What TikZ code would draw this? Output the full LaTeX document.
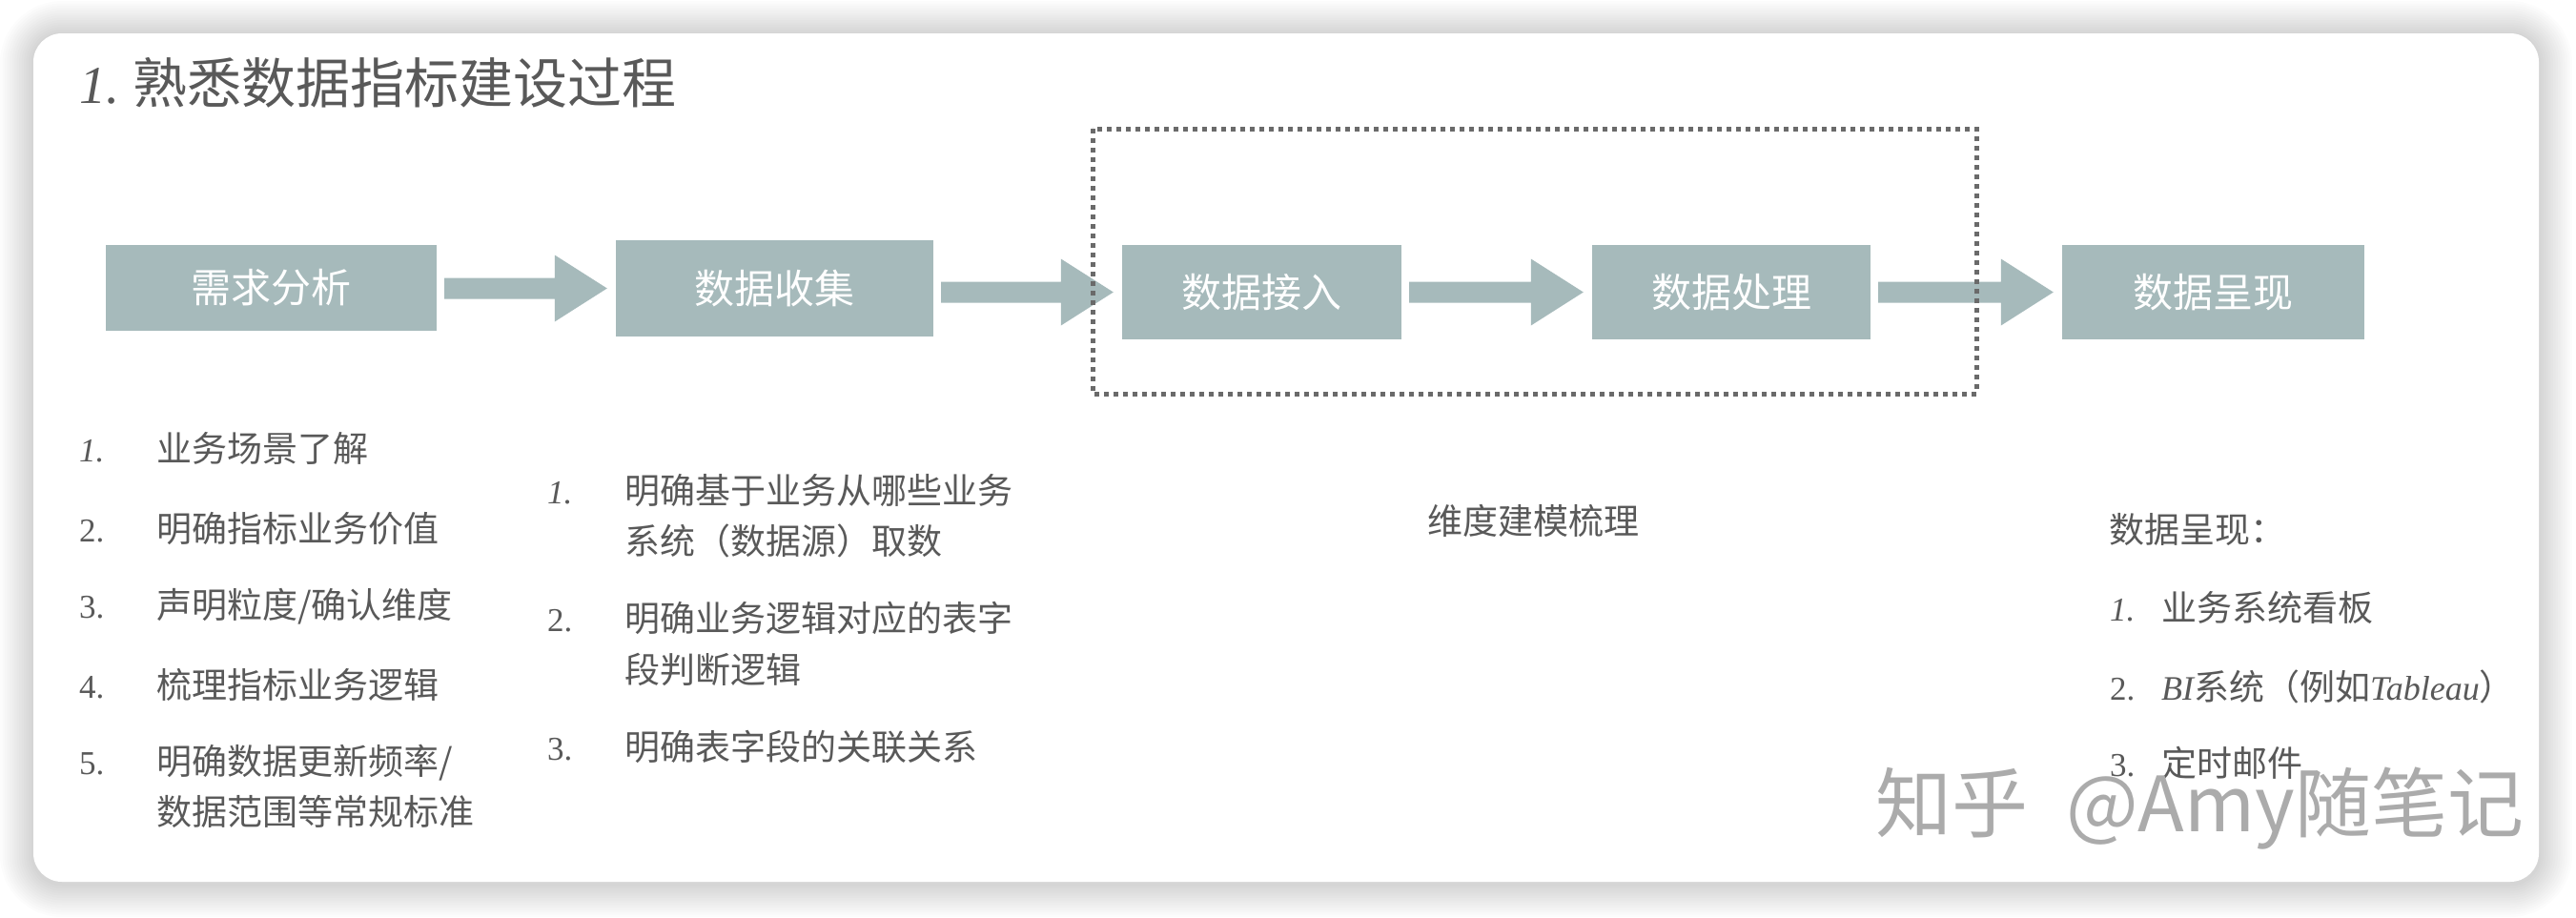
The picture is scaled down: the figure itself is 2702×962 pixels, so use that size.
\documentclass[tikz,border=0pt]{standalone}
\usepackage{fontspec}
\newfontfamily\cjk{Noto Sans CJK SC}
\newfontfamily\latf{Liberation Serif}
\usetikzlibrary{calc}
\definecolor{boxfill}{HTML}{A6BABB}
\definecolor{txt}{HTML}{595959}
\definecolor{dotc}{HTML}{6A6A6A}
\definecolor{wm}{HTML}{ABABAB}
\newcommand\nI[1]{{\latf\fontsize{35}{35}\selectfont\itshape #1}}
\newcommand\nU[1]{{\latf\fontsize{35}{35}\selectfont #1}}
\newcommand\latI[1]{{\latf\fontsize{36}{36}\selectfont\itshape #1}}
\newcommand\blockarrow[2]{%
  \coordinate (s) at ($(#1.east)+(8,0)$);
  \coordinate (t) at ($(#2.west)+(-9,0)$);
  \fill[boxfill] ($(s |- t)+(0,-11)$) -- ($(t)+(-55,-11)$) -- ($(t)+(-55,-35)$) -- (t)
     -- ($(t)+(-55,35)$) -- ($(t)+(-55,11)$) -- ($(s |- t)+(0,11)$) -- cycle;}
\begin{document}
\begin{tikzpicture}[x=1pt,y=-1pt,
  stage/.style={fill=boxfill, draw=none, inner sep=0, text=white,
    font=\cjk\fontsize{42}{42}\selectfont},
  item/.style={anchor=west, inner sep=0, text=txt,
    font=\cjk\fontsize{37}{37}\selectfont},
  ]
\useasboundingbox (0,0) rectangle (2702,962);
\fill[white] (0,0) rectangle (2702,962);
% shadow
\foreach \i in {1,...,14}{
  \fill[black, opacity=0.012, rounded corners=30+2.5*\i]
    (35-2.5*\i,36-2.5*\i) rectangle (2663+2.5*\i,927+2.5*\i);
}
% card
\fill[white, rounded corners=30] (35,35) rectangle (2663,925);

% title
\node[anchor=west, inner sep=0, text=txt] (title) at (83,87)
  {{\latf\fontsize{56}{56}\selectfont\itshape 1.}\hspace{14pt}{\cjk\fontsize{57}{57}\selectfont 熟悉数据指标建设过程}};

% stages
\node[stage, minimum width=347, minimum height=90] (s1) at (284.5,302) {需求分析};
\node[stage, minimum width=333, minimum height=101] (s2) at (812.5,302.5) {数据收集};
\node[stage, minimum width=293, minimum height=99] (s3) at (1323.5,306.5) {数据接入};
\node[stage, minimum width=292, minimum height=99] (s4) at (1816,306.5) {数据处理};
\node[stage, minimum width=317, minimum height=99] (s5) at (2321.5,306.5) {数据呈现};

\blockarrow{s1}{s2}
\blockarrow{s2}{s3}
\blockarrow{s3}{s4}
\blockarrow{s4}{s5}

% dotted frame
\draw[dotc, line width=5pt, dash pattern=on 5pt off 5pt] (1146,135) rectangle (2073,413);

% left list
\node[item] (l1) at (83,470) {\makebox[81pt][l]{\nI{1.}}业务场景了解};
\node[item] (l2) at (83,555) {\makebox[81pt][l]{\nU{2.}}明确指标业务价值};
\node[item] (l3) at (83,636) {\makebox[81pt][l]{\nU{3.}}声明粒度/确认维度};
\node[item] (l4) at (83,718) {\makebox[81pt][l]{\nU{4.}}梳理指标业务逻辑};
\node[item] (l5) at (83,800) {\makebox[81pt][l]{\nU{5.}}明确数据更新频率/};
\node[item] (l5b) at (164,851) {数据范围等常规标准};

% middle list
\node[item] (m1) at (574,515) {\makebox[81pt][l]{\nI{1.}}明确基于业务从哪些业务};
\node[item] (m1b) at (655,567) {系统（数据源）取数};
\node[item] (m2) at (574,648) {\makebox[81pt][l]{\nU{2.}}明确业务逻辑对应的表字};
\node[item] (m2b) at (655,702) {段判断逻辑};
\node[item] (m3) at (574,783) {\makebox[81pt][l]{\nU{3.}}明确表字段的关联关系};

% center note
\node[item] (dim) at (1497,546) {维度建模梳理};

% right list
\node[item] (r0) at (2212,555) {数据呈现：};
\node[item] (r1) at (2213,637) {\makebox[54pt][l]{\nI{1.}}业务系统看板};
\node[item] (r2) at (2213,720) {\makebox[54pt][l]{\nU{2.}}\latI{BI}系统（例如\latI{Tableau}）};
\node[item] (r3) at (2213,800) {\makebox[54pt][l]{\nU{3.}}定时邮件};

% watermark
\node[anchor=west, inner sep=0, text=wm, font=\cjk\fontsize{80}{80}\selectfont] (wmk) at (1967,848)
  {知乎\hspace{40pt}@Amy随笔记};
\end{tikzpicture}
\end{document}
